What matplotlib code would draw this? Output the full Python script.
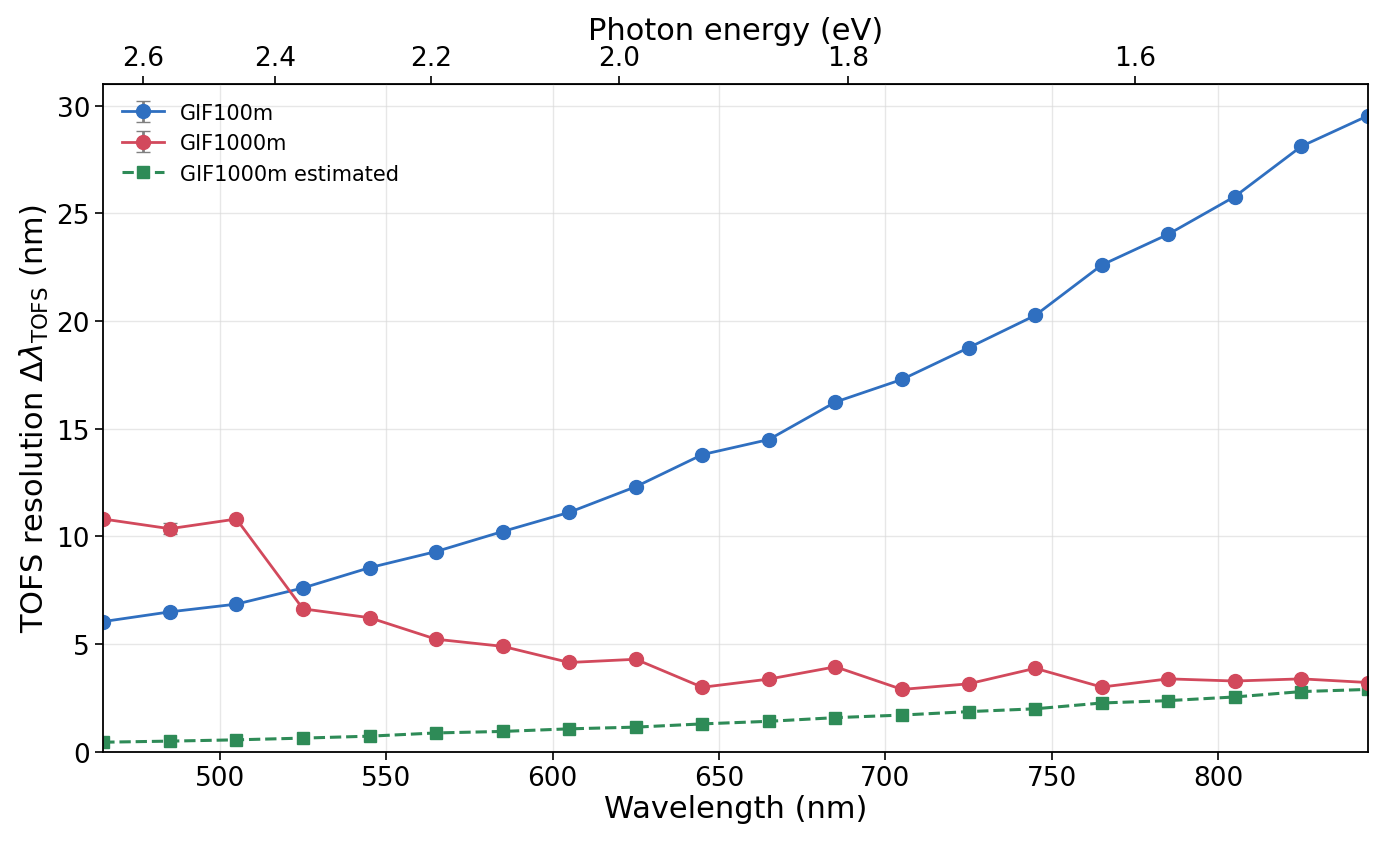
import numpy as np
import matplotlib
matplotlib.use('Agg')
import matplotlib.pyplot as plt

# longitudes de onda (nm)
wavelength = [465, 485, 505, 525, 545, 565, 585, 605, 625, 645,
              665, 685, 705, 725, 745, 765, 785, 805, 825, 845]

gif100 = [6.05, 6.50, 6.86, 7.61, 8.55, 9.30, 10.23, 11.12, 12.31, 13.80,
          14.50, 16.24, 17.29, 18.76, 20.26, 22.60, 24.03, 25.78, 28.11, 29.53]
gif100_err = [0.05, 0.05, 0.05, 0.05, 0.05, 0.05, 0.05, 0.05, 0.05, 0.05,
              0.05, 0.05, 0.05, 0.05, 0.05, 0.05, 0.05, 0.05, 0.05, 0.05]

gif1000 = [10.81, 10.36, 10.81, 6.64, 6.23, 5.23, 4.90, 4.15, 4.30, 3.00,
           3.38, 3.95, 2.90, 3.16, 3.88, 3.01, 3.39, 3.29, 3.39, 3.22]
gif1000_err = [0.05, 0.25, 0.05, 0.05, 0.05, 0.05, 0.05, 0.05, 0.05, 0.05,
               0.05, 0.05, 0.05, 0.05, 0.05, 0.05, 0.05, 0.05, 0.05, 0.05]

gif1000_est = [0.45, 0.50, 0.56, 0.64, 0.73, 0.88, 0.95, 1.07, 1.15, 1.30,
               1.42, 1.59, 1.71, 1.87, 2.00, 2.27, 2.38, 2.55, 2.80, 2.90]

energy_ticks = [2.6, 2.4, 2.2, 2.0, 1.8, 1.6]

fig = plt.figure(figsize=(13.86, 8.45), dpi=100)
ax = fig.add_axes([0.0745, 0.109, 0.9125, 0.7905])

h1 = ax.errorbar(wavelength, gif100, yerr=gif100_err, fmt='-o', color='#2f6fc0',
                 ecolor='gray', capsize=5, lw=2, ms=10, label='GIF100m')
h2 = ax.errorbar(wavelength, gif1000, yerr=gif1000_err, fmt='-o', color='#d2495c',
                 ecolor='gray', capsize=5, lw=2, ms=10, label='GIF1000m')
h3, = ax.plot(wavelength, gif1000_est, '--s', color='#2e8b57', lw=2.2, ms=9,
              label='GIF1000m estimated')

ax.set_xlim(min(wavelength), max(wavelength))
ax.set_ylim(0, max(gif100) * 1.05)
ax.grid(True, color='#d8d8d8', alpha=0.6, lw=1)
ax.tick_params(labelsize=19, length=6, width=1.2)
ax.set_xlabel('Wavelength (nm)', fontsize=22, labelpad=2)
ax.set_ylabel(r'TOFS resolution $\Delta\lambda_{\mathrm{TOFS}}$ (nm)', fontsize=22)
for s in ax.spines.values():
    s.set_linewidth(1.3)

sec = ax.secondary_xaxis('top', functions=(lambda x: 1239.84 / x, lambda e: 1239.84 / e))
sec.set_xticks(energy_ticks)
sec.set_xticklabels([f'{e:.1f}' for e in energy_ticks])
sec.tick_params(labelsize=19, length=6, width=1.2)
sec.set_xlabel('Photon energy (eV)', fontsize=22, labelpad=4)

ax.legend(handles=[h1, h2, h3], loc='upper left', frameon=False, fontsize=15)

plt.savefig('out.png', dpi=100)
